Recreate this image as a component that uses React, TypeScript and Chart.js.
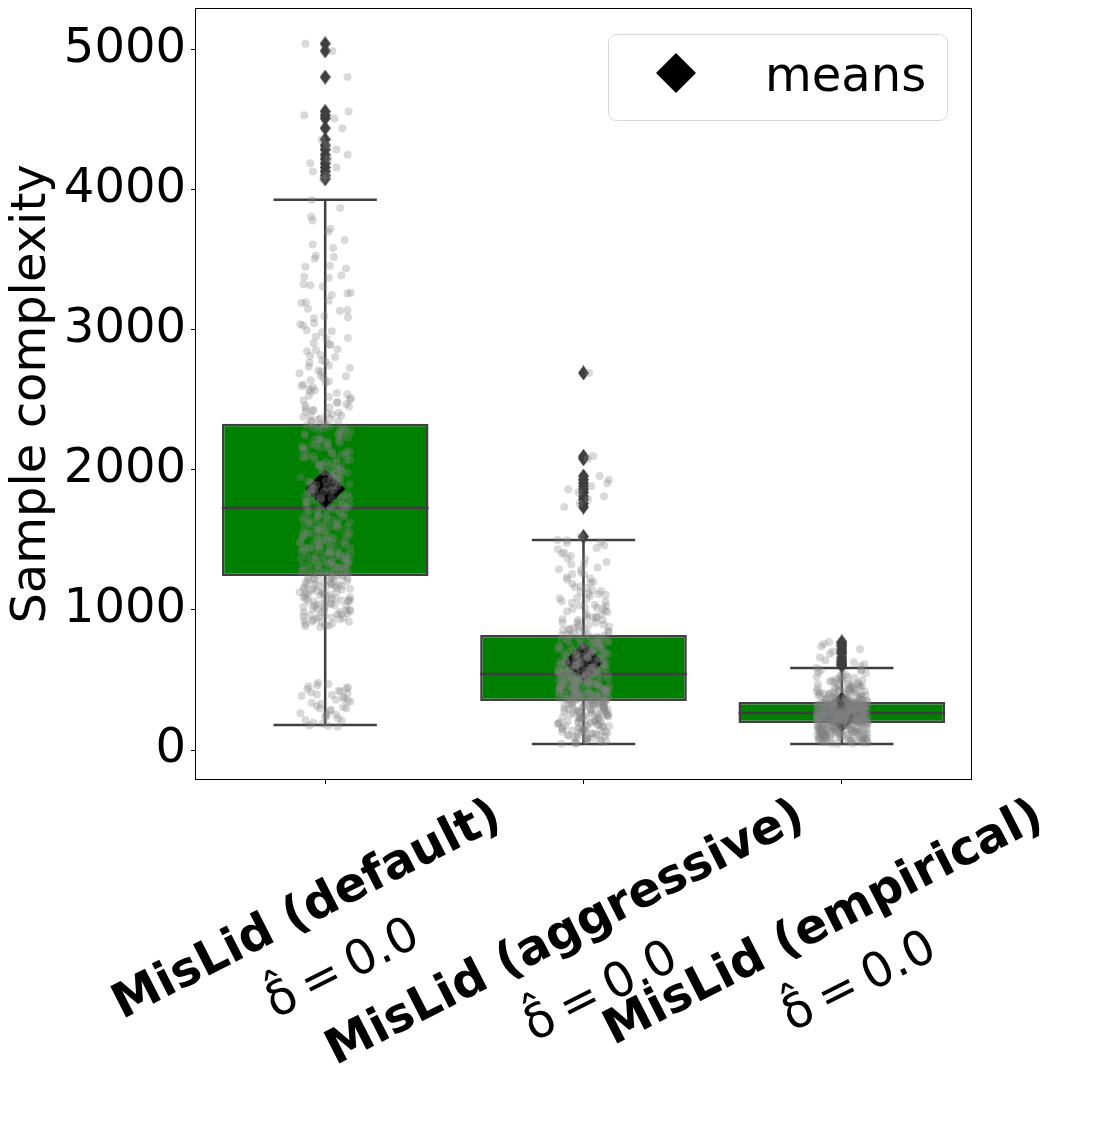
import React, { useEffect, useRef } from 'react';
import { Chart, registerables } from 'chart.js';

Chart.register(...registerables);

// ---------------- data ----------------
const categories = ['MisLid (default)', 'MisLid (aggressive)', 'MisLid (empirical)'];
const deltaLabels = ['δ̂\u2009=\u20090.0', 'δ̂\u2009=\u20090.0', 'δ̂\u2009=\u20090.0'];
const yTickValues = [0, 1000, 2000, 3000, 4000, 5000];
const yTitle = 'Sample complexity';
const legendLabel = 'means';

const q1 = [1243, 350, 193];
const medians = [1729, 543, 264];
const q3 = [2329, 821, 343];
const whiskerLow = [179, 43, 43];
const whiskerHigh = [3929, 1500, 586];
const means = [1864, 628, 272];

const outliersDefault = [4078, 4102, 4131, 4160, 4189, 4221, 4250, 4287, 4318, 4360, 4440, 4510, 4532, 4560, 4805, 4992, 5043];
const outliersAggressive = [1524, 1735, 1760, 1790, 1812, 1840, 1862, 1884, 1905, 1930, 1956, 2080, 2097, 2692];
const outliersEmpirical = [600, 612, 626, 641, 660, 688, 703, 720, 741, 757, 772];

const samplesDefault = [
  166, 171, 188, 194, 209, 226, 233, 247, 255, 262, 279, 288, 296, 307, 315, 331, 338, 344, 359, 366, 378, 385, 392, 404, 411, 423, 436, 441, 455, 463, 472, 480,
  879, 887, 899, 904, 915, 918, 929, 933, 942, 946, 955, 958, 968, 970, 981, 983, 992, 997, 1004, 1006, 1015, 1021, 1026, 1029, 1038, 1044, 1046, 1055, 1061, 1063, 1072, 1077, 1081, 1089, 1093, 1098, 1105, 1109, 1114, 1119, 1126, 1130, 1137, 1141, 1146, 1152, 1155, 1162, 1167, 1169, 1177, 1183, 1184, 1193, 1197, 1200, 1209, 1214, 1216, 1225, 1227, 1234, 1240,
  1247, 1250, 1259, 1261, 1270, 1272, 1281, 1283, 1292, 1295, 1303, 1306, 1314, 1317, 1326, 1329, 1338, 1341, 1349, 1352, 1361, 1363, 1373, 1376, 1385, 1387, 1397, 1401, 1410, 1413, 1422, 1425, 1435, 1438, 1448, 1451, 1461, 1464, 1474, 1478, 1488, 1491, 1502, 1505, 1516, 1519, 1530, 1534, 1545, 1548, 1560, 1563, 1575, 1578, 1590, 1594, 1606, 1610, 1622, 1626, 1639, 1643, 1656, 1660, 1673, 1677, 1690, 1695, 1708, 1713, 1726,
  1735, 1741, 1754, 1759, 1772, 1777, 1790, 1796, 1808, 1814, 1827, 1833, 1846, 1852, 1864, 1871, 1883, 1890, 1902, 1909, 1921, 1928, 1941, 1947, 1960, 1967, 1980, 1987, 2000, 2006, 2019, 2026, 2039, 2046, 2059, 2066, 2079, 2086, 2099, 2106, 2120, 2127, 2140, 2148, 2161, 2168, 2182, 2189, 2203, 2210, 2224, 2232, 2245, 2253, 2267, 2274, 2288, 2296, 2309, 2317, 2326,
  2334, 2347, 2351, 2364, 2369, 2383, 2388, 2402, 2409, 2423, 2430, 2447, 2453, 2471, 2477, 2496, 2503, 2521, 2530, 2549, 2559, 2578, 2590, 2609, 2622, 2641, 2656, 2674, 2691, 2709, 2728, 2745, 2766, 2782, 2806, 2821, 2848, 2862, 2891, 2905, 2936, 2950, 2983, 2998, 3032, 3047, 3083, 3098, 3136, 3151, 3191, 3207, 3248, 3265, 3309, 3326, 3372, 3389, 3438, 3457, 3508, 3530, 3585, 3641, 3722, 3809, 3928,
  4078, 4102, 4131, 4160, 4189, 4221, 4250, 4287, 4318, 4360, 4440, 4510, 4532, 4560, 4805, 4992, 5043,
  175, 214, 251, 299, 352, 397, 418, 446,
  884, 893, 910, 924, 937, 951, 963, 975, 988, 1001, 1011, 1034, 1049, 1058, 1068, 1085, 1102, 1121, 1134, 1149, 1158, 1172, 1188, 1205, 1219, 1231, 1066, 1111, 1179, 1237,
  1255, 1266, 1277, 1289, 1299, 1310, 1321, 1333, 1345, 1356, 1368, 1381, 1393, 1406, 1418, 1431, 1443, 1456, 1469, 1483, 1496, 1511, 1525, 1540, 1554, 1569, 1584, 1599, 1615, 1632, 1648, 1665, 1683, 1700, 1718, 1737, 1747, 1764, 1781, 1800, 1818, 1838, 1857, 1876, 1896, 1915, 1933, 1952, 1972, 1991, 2011, 2031, 2052, 2072, 2093, 2113, 2134, 2155, 2176, 2196, 2217, 2238, 2260, 2281, 2302, 2321,
  1268, 1302, 1344, 1389, 1428, 1471, 1513, 1551, 1597, 1634, 1668, 1711, 1757, 1801, 1849, 1893, 1938, 1984, 2030, 2074, 2117, 2164, 2206, 2250, 2293, 1285, 1334, 1395, 1442, 1499, 1557, 1617, 1676, 1736, 1795, 1858, 1917, 1976, 2037, 2097, 2158, 2219, 2284,
  2340, 2358, 2377, 2395, 2416, 2438, 2460, 2484, 2512, 2540, 2568, 2600, 2633, 2668, 2700, 2736, 2774, 2814, 2856, 2898, 2942, 2990, 3040, 3090, 3142, 3198, 3260, 3318, 3380, 3450, 3520, 3610, 3700, 3780, 3870,
];

const samplesAggressive = [
  44, 49, 58, 63, 67, 74, 79, 83, 88, 95, 99, 104, 108, 113, 119, 122, 127, 133, 136, 141, 147, 150, 155, 161, 164, 169, 174, 178, 183, 187, 191, 196, 199, 204, 208, 212, 216, 221, 224, 229, 232, 236, 241, 244, 248, 252, 256, 259, 263, 267, 270, 274, 277, 281, 285, 288, 291, 295, 298, 302, 305, 308, 311, 315, 318, 321, 324, 327, 331, 334, 337, 340, 343, 346, 349,
  351, 355, 356, 361, 363, 366, 368, 372, 374, 376, 379, 382, 385, 387, 389, 393, 395, 397, 400, 403, 406, 408, 411, 414, 416, 419, 422, 424, 427, 430, 433, 435, 438, 441, 444, 446, 449, 452, 455, 457, 460, 463, 466, 469, 472, 474, 477, 480, 483, 486, 489, 492, 494, 498, 501, 504, 507, 510, 513, 516, 519, 522, 525, 528, 532, 535, 538, 541, 543,
  546, 550, 552, 557, 559, 564, 566, 571, 573, 578, 580, 585, 588, 591, 596, 598, 604, 607, 611, 615, 617, 623, 626, 628, 634, 638, 640, 646, 650, 652, 658, 662, 664, 670, 674, 677, 683, 687, 689, 696, 700, 702, 709, 713, 716, 722, 727, 729, 736, 741, 743, 750, 755, 758, 765, 770, 772, 780, 785, 788, 796, 801, 803, 811, 816, 819,
  827, 833, 842, 848, 857, 864, 873, 880, 890, 897, 908, 914, 926, 933, 945, 952, 964, 972, 985, 993, 1006, 1015, 1028, 1038, 1052, 1062, 1076, 1087, 1102, 1113, 1129, 1141, 1157, 1170, 1187, 1200, 1218, 1233, 1252, 1267, 1287, 1304, 1325, 1343, 1366, 1386, 1411, 1433, 1460, 1484, 1497, 1500,
  1524, 1735, 1760, 1790, 1812, 1840, 1862, 1884, 1905, 1930, 1956, 2080, 2097, 2692,
  47, 55, 70, 86, 92, 101, 111, 116, 125, 130, 139, 144, 152, 158, 167, 172, 181, 189, 194, 202, 210, 218, 226, 234, 239, 246, 254, 261, 269, 276, 283, 290, 297, 304, 312, 319, 326, 333, 339, 347,
  353, 359, 365, 370, 377, 384, 391, 398, 405, 412, 418, 425, 432, 439, 447, 454, 461, 468, 475, 482, 490, 497, 503, 511, 518, 526, 533, 540, 548, 555, 562, 569, 576, 583, 590, 600, 609, 619, 630, 642, 654, 667, 679, 692, 705, 719, 733, 748, 762, 777, 793, 808, 817,
  360, 381, 402, 423, 445, 467, 488, 509, 530, 553, 575, 601, 627, 655, 681, 711, 739, 767, 798, 410, 470, 520, 560, 620, 690, 760,
  830, 845, 861, 877, 894, 911, 929, 948, 968, 989, 1011, 1034, 1058, 1083, 1109, 1136, 1164, 1194, 1225, 1257, 1291, 1327, 1364, 1402, 1442, 1478, 860, 940, 1020, 1120,
];

const samplesEmpirical = [
  44, 48, 53, 57, 60, 64, 67, 71, 74, 77, 80, 83, 86, 89, 92, 95, 97, 100, 103, 105, 108, 110, 113, 115, 118, 120, 122, 125, 127, 129, 132, 134, 136, 138, 141, 143, 145, 147, 149, 151, 153, 156, 158, 160, 162, 164, 166, 168, 170, 172, 174, 176, 178, 180, 182, 184, 186, 187, 189, 191, 193,
  194, 196, 197, 199, 200, 202, 203, 204, 206, 207, 209, 210, 212, 213, 214, 216, 217, 219, 220, 221, 223, 224, 226, 227, 228, 230, 231, 232, 234, 235, 236, 238, 239, 241, 242, 243, 245, 246, 247, 249, 250, 251, 253, 254, 255, 256, 258, 259, 260, 262, 263, 264,
  265, 266, 268, 269, 270, 272, 273, 274, 276, 277, 278, 280, 281, 283, 284, 285, 287, 288, 290, 291, 293, 294, 296, 297, 299, 300, 302, 303, 305, 306, 308, 310, 311, 313, 315, 316, 318, 320, 321, 323, 325, 327, 328, 330, 332, 334, 336, 338, 340, 342,
  345, 349, 352, 356, 359, 363, 366, 370, 374, 377, 381, 385, 389, 393, 397, 401, 405, 410, 414, 419, 423, 428, 433, 438, 443, 449, 454, 460, 466, 472, 478, 485, 492, 499, 507, 515, 524, 533, 543, 553, 564, 575, 586,
  600, 612, 626, 641, 660, 688, 703, 720, 741, 757, 772,
  46, 51, 55, 59, 62, 66, 69, 73, 76, 79, 82, 85, 88, 91, 94, 96, 99, 102, 104, 107, 109, 112, 114, 117, 119, 121, 124, 126, 128, 131, 133, 135, 137, 140, 142, 144, 146, 148, 150, 152, 155, 157, 159, 161, 163, 167, 171, 175, 181, 188,
  195, 198, 201, 205, 208, 211, 215, 218, 222, 225, 229, 233, 237, 240, 244, 248, 252, 257, 261, 267, 271, 275, 279, 282, 286, 289, 292, 295, 298, 301, 304, 307, 309, 312, 314, 317, 319, 322, 324, 326, 329, 331, 333, 335, 337, 339, 341, 343,
  196, 200, 204, 209, 213, 218, 223, 228, 233, 238, 243, 248, 253, 257, 262, 266, 270, 275, 279, 284, 289, 294, 299, 304, 309, 314, 319, 324, 329, 334, 339,
  198, 207, 216, 225, 234, 244, 253, 261, 269, 278, 287, 296, 305, 314, 323, 332, 341, 202, 220, 238, 256, 274, 292, 310, 328, 211, 247, 283, 318,
  344, 347, 351, 354, 358, 361, 365, 368, 372, 376, 379, 383, 387, 391, 395, 399, 403, 408, 412, 417, 421, 426, 431, 436, 441, 446, 452, 457, 463, 469, 475, 482, 489, 496, 504, 512, 521, 530, 548, 570,
];

const samplesByCategory = [samplesDefault, samplesAggressive, samplesEmpirical];
const outliersByCategory = [outliersDefault, outliersAggressive, outliersEmpirical];

// ---------------- styles ----------------
const FONT = '"DejaVu Sans", sans-serif';
const BOX_FILL = '#008000';
const LINE_COLOR = '#3f3f3f';
const POINT_COLOR = 'rgba(128,128,128,0.3)';
const W = 1097;
const H = 1146;
const ROT = (27 * Math.PI) / 180;

// deterministic horizontal jitter (layout only)
function jitter(c: number, j: number): number {
  const h = Math.sin((j + 1) * 12.9898 + (c + 1) * 78.233) * 43758.5453;
  const f = h - Math.floor(h);
  return (f - 0.5) * 0.2;
}

function thinDiamond(): HTMLCanvasElement {
  const cv = document.createElement('canvas');
  cv.width = 11;
  cv.height = 15;
  const g = cv.getContext('2d')!;
  g.fillStyle = LINE_COLOR;
  g.beginPath();
  g.moveTo(5.5, 0);
  g.lineTo(11, 7.5);
  g.lineTo(5.5, 15);
  g.lineTo(0, 7.5);
  g.closePath();
  g.fill();
  return cv;
}

const boxExtras = {
  id: 'boxExtras',
  afterDatasetDraw(chart: any, args: any) {
    if (args.index !== 0) return;
    const ctx = chart.ctx;
    const y = chart.scales.y;
    ctx.save();
    ctx.strokeStyle = LINE_COLOR;
    ctx.lineWidth = 2.5;
    args.meta.data.forEach((bar: any, i: number) => {
      const { x: cx, width } = bar.getProps(['x', 'width'], true);
      const half = width / 2;
      const cap = half / 2;
      const line = (x1: number, y1: number, x2: number, y2: number) => {
        ctx.beginPath();
        ctx.moveTo(x1, y1);
        ctx.lineTo(x2, y2);
        ctx.stroke();
      };
      const pm = y.getPixelForValue(medians[i]);
      line(cx - half, pm, cx + half, pm);
      const pq1 = y.getPixelForValue(q1[i]);
      const pq3 = y.getPixelForValue(q3[i]);
      const plo = y.getPixelForValue(whiskerLow[i]);
      const phi = y.getPixelForValue(whiskerHigh[i]);
      line(cx, pq3, cx, phi);
      line(cx, pq1, cx, plo);
      line(cx - cap, phi, cx + cap, phi);
      line(cx - cap, plo, cx + cap, plo);
    });
    ctx.restore();
  },
  afterDraw(chart: any) {
    const ctx = chart.ctx;
    const area = chart.chartArea;
    const xs = chart.scales.x;
    ctx.save();
    // frame
    ctx.strokeStyle = '#000';
    ctx.lineWidth = 1;
    ctx.strokeRect(Math.round(area.left) - 0.5, Math.round(area.top) - 0.5, Math.round(area.right - area.left) + 1, Math.round(area.bottom - area.top) + 1);

    // x tick labels (two lines, rotated)
    ctx.fillStyle = '#000';
    ctx.textAlign = 'center';
    ctx.textBaseline = 'alphabetic';
    categories.forEach((label, i) => {
      const tx = xs.getPixelForTick(i);
      ctx.font = `bold 48px ${FONT}`;
      const w1 = ctx.measureText(label).width;
      const cx = tx - 12;
      const cy = area.bottom + 46 + (w1 * Math.sin(ROT)) / 2;
      ctx.save();
      ctx.translate(cx, cy);
      ctx.rotate(-ROT);
      ctx.fillText(label, 0, 0);
      ctx.font = `48px ${FONT}`;
      ctx.fillText(deltaLabels[i], 5, 69);
      ctx.restore();
    });

    // legend
    const lw = 339;
    const lh = 86;
    const lx = area.right - 24 - lw;
    const ly = area.top + 25;
    ctx.beginPath();
    ctx.roundRect(lx + 0.5, ly + 0.5, lw, lh, 8);
    ctx.fillStyle = 'rgba(255,255,255,0.8)';
    ctx.fill();
    ctx.strokeStyle = '#d6d6d6';
    ctx.lineWidth = 1;
    ctx.stroke();
    const dx = lx + 68;
    const dy = ly + 39;
    const r = 20;
    ctx.beginPath();
    ctx.moveTo(dx - r, dy);
    ctx.lineTo(dx, dy - r);
    ctx.lineTo(dx + r, dy);
    ctx.lineTo(dx, dy + r);
    ctx.closePath();
    ctx.fillStyle = '#000';
    ctx.fill();
    ctx.font = `48px ${FONT}`;
    ctx.textAlign = 'left';
    ctx.textBaseline = 'alphabetic';
    ctx.fillText(legendLabel, lx + 157, ly + 57);
    ctx.restore();
  },
};

export default function App() {
  const ref = useRef<HTMLCanvasElement | null>(null);

  useEffect(() => {
    document.body.style.margin = '0';
    const canvas = ref.current;
    if (!canvas) return;

    const stripData: { x: number; y: number }[] = [];
    samplesByCategory.forEach((arr, c) => {
      arr.forEach((v, j) => stripData.push({ x: c + jitter(c, j), y: v }));
    });
    const outlierData: { x: number; y: number }[] = [];
    outliersByCategory.forEach((arr, c) => arr.forEach((v) => outlierData.push({ x: c, y: v })));
    const meanData = means.map((v, c) => ({ x: c, y: v }));

    const chart = new Chart(canvas, {
      type: 'bar',
      data: {
        labels: categories,
        datasets: [
          {
            type: 'bar',
            label: 'box',
            data: categories.map((_, i) => [q1[i], q3[i]]) as any,
            backgroundColor: BOX_FILL,
            borderColor: LINE_COLOR,
            borderWidth: 2.5,
            borderSkipped: false,
            grouped: false,
            categoryPercentage: 0.8,
            barPercentage: 1.0,
            xAxisID: 'x',
            yAxisID: 'y',
            order: 3,
          } as any,
          {
            type: 'scatter',
            label: 'outliers',
            data: outlierData,
            pointStyle: thinDiamond(),
            pointRadius: 6,
            xAxisID: 'xj',
            yAxisID: 'y',
            order: 2,
          } as any,
          {
            type: 'scatter',
            label: legendLabel,
            data: meanData,
            pointStyle: 'rectRot',
            pointRadius: 20,
            backgroundColor: '#000',
            borderWidth: 0,
            xAxisID: 'xj',
            yAxisID: 'y',
            order: 1,
          } as any,
          {
            type: 'scatter',
            label: 'samples',
            data: stripData,
            pointStyle: 'circle',
            pointRadius: 4,
            backgroundColor: POINT_COLOR,
            borderWidth: 0,
            xAxisID: 'xj',
            yAxisID: 'y',
            order: 0,
          } as any,
        ],
      },
      options: {
        responsive: false,
        animation: false,
        devicePixelRatio: 1,
        layout: { autoPadding: false, padding: { top: 9, right: 126, bottom: 0, left: 0 } },
        plugins: {
          legend: { display: false },
          tooltip: { enabled: false },
        },
        scales: {
          x: {
            type: 'category',
            offset: true,
            border: { display: false },
            grid: { display: true, offset: false, drawOnChartArea: false, drawTicks: true, tickLength: 5, tickColor: '#000', tickWidth: 1 },
            ticks: { display: false },
            afterFit: (s: any) => {
              s.height = 367;
              s.paddingLeft = 0;
              s.paddingRight = 0;
            },
          },
          xj: {
            type: 'linear',
            axis: 'x',
            position: 'bottom',
            offset: false,
            grid: { offset: false },
            min: -0.5,
            max: 2.5,
            display: false,
          },
          y: {
            type: 'linear',
            min: -207,
            max: 5291,
            border: { display: false },
            grid: { display: true, drawOnChartArea: false, drawTicks: true, tickLength: 5, tickColor: '#000', tickWidth: 1 },
            ticks: {
              color: '#000',
              font: { family: FONT, size: 48 },
              padding: 5,
              includeBounds: false,
              callback: (v: any) => String(v),
            },
            afterBuildTicks: (s: any) => {
              s.ticks = yTickValues.map((v) => ({ value: v }));
            },
            title: {
              display: true,
              text: yTitle,
              color: '#000',
              font: { family: FONT, size: 48 },
              padding: { top: 4, bottom: 0 },
            },
            afterFit: (s: any) => {
              s.width = 196;
              s.paddingTop = 0;
              s.paddingBottom = 0;
            },
          },
        },
      } as any,
      plugins: [boxExtras as any],
    });

    return () => chart.destroy();
  }, []);

  return (
    <div style={{ width: W, height: H, background: '#fff' }}>
      <canvas ref={ref} width={W} height={H} style={{ display: 'block', width: W, height: H }} />
    </div>
  );
}
